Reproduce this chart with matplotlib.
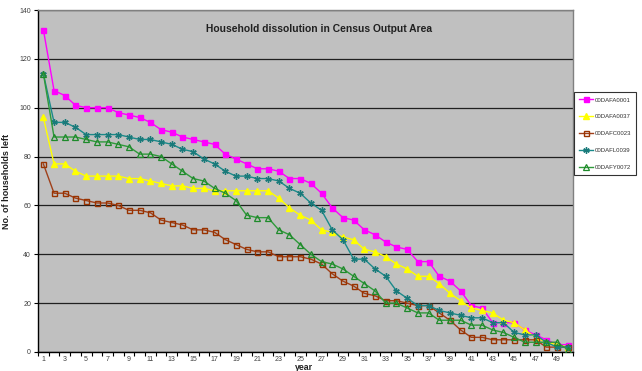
import matplotlib
matplotlib.use("Agg")
import matplotlib.pyplot as plt
import numpy as np

plt.rcParams['font.family'] = ['Liberation Sans', 'DejaVu Sans']

years = list(range(1, 51))

afa0001 = [132, 107, 105, 101, 100, 100, 100, 98, 97, 96,
           94, 91, 90, 88, 87, 86, 85, 81, 79, 77,
           75, 75, 74, 71, 71, 69, 65, 59, 55, 54,
           50, 48, 45, 43, 42, 37, 37, 31, 29, 25,
           19, 18, 12, 12, 12, 9, 7, 5, 3, 3]
afa0037 = [96, 77, 77, 74, 72, 72, 72, 72, 71, 71,
           70, 69, 68, 68, 67, 67, 66, 66, 66, 66,
           66, 66, 63, 59, 56, 54, 50, 49, 47, 46,
           42, 41, 39, 36, 34, 31, 31, 28, 24, 21,
           18, 17, 16, 13, 12, 9, 6, 4, 3, 2]
afc0023 = [77, 65, 65, 63, 62, 61, 61, 60, 58, 58,
           57, 54, 53, 52, 50, 50, 49, 46, 44, 42,
           41, 41, 39, 39, 39, 38, 36, 32, 29, 27,
           24, 23, 21, 21, 20, 19, 19, 16, 13, 9,
           6, 6, 5, 5, 5, 5, 5, 2, 2, 2]
afl0039 = [114, 94, 94, 92, 89, 89, 89, 89, 88, 87,
           87, 86, 85, 83, 82, 79, 77, 74, 72, 72,
           71, 71, 70, 67, 65, 61, 58, 50, 46, 38,
           38, 34, 31, 25, 22, 19, 19, 17, 16, 15,
           14, 14, 12, 12, 8, 7, 7, 4, 2, 2]
afy0072 = [114, 88, 88, 88, 87, 86, 86, 85, 84, 81,
           81, 80, 77, 74, 71, 70, 67, 65, 62, 56,
           55, 55, 50, 48, 44, 40, 37, 36, 34, 31,
           28, 25, 20, 20, 18, 16, 16, 13, 13, 13,
           11, 11, 9, 8, 6, 4, 4, 4, 4, 1]

series_names = ['00DAFA0001', '00DAFA0037', '00DAFC0023', '00DAFL0039', '00DAFY0072']
yticks = [0, 20, 40, 60, 80, 100, 120, 140]
xtick_labels = [str(y) for y in years if y % 2 == 1]

fig = plt.figure(figsize=(6.42, 3.71), dpi=100)
ax = fig.add_axes([38/642, 1 - 352/371, 535/642, 342/371])
ax.set_facecolor('#C0C0C0')

ms = 3.6
ax.plot(years, afa0001, color='#FF00FF', lw=1, marker='s', ms=ms, mfc='#FF00FF', mec='#FF00FF', label=series_names[0], zorder=3)
ax.plot(years, afa0037, color='#FFFF00', lw=1, marker='^', ms=ms+0.4, mfc='#FFFF00', mec='#FFFF00', label=series_names[1], zorder=3)
ax.plot(years, afc0023, color='#A0401A', lw=1, marker='s', ms=ms, mfc='none', mec='#993300', mew=1, label=series_names[2], zorder=3)
ax.plot(years, afl0039, color='#1A8A8A', lw=1, marker=(6, 2, 0), ms=ms+1, mec='#1A7A7A', mew=1, label=series_names[3], zorder=3)
ax.plot(years, afy0072, color='#2E9A3A', lw=1, marker='^', ms=ms+0.4, mfc='none', mec='#1E8A2A', mew=0.9, label=series_names[4], zorder=3)

ax.set_xlim(0.5, 50.5)
ax.set_ylim(0, 140)
ax.set_yticks(yticks)
ax.set_yticklabels([str(v) for v in yticks], fontsize=5, color='#404040')
ax.yaxis.grid(True, color='#202020', lw=0.9)
ax.set_axisbelow(True)

ax.set_xticks([y for y in years if y % 2 == 1])
ax.set_xticklabels(xtick_labels, fontsize=5, color='#404040')
ax.set_xticks(np.arange(0.5, 51, 1), minor=True)
ax.tick_params(axis='x', which='major', length=0, pad=3)
ax.tick_params(axis='x', which='minor', length=3, width=0.8, direction='out')
ax.tick_params(axis='y', length=3, width=0.8, direction='out', pad=2)

for s in ['left', 'bottom']:
    ax.spines[s].set_color('#000000')
    ax.spines[s].set_linewidth(1.0)
for s in ['top', 'right']:
    ax.spines[s].set_color('#808080')
    ax.spines[s].set_linewidth(1.0)

ax.text(0.525, 0.944, 'Household dissolution in Census Output Area', transform=ax.transAxes,
        ha='center', va='center', fontsize=7.4, fontweight='bold', color='#202020')
ax.set_ylabel('No. of households left', fontsize=6.5, fontweight='bold', color='#202020', labelpad=6)
fig.text(304/642, 1 - 367/371, 'year', ha='center', va='center', fontsize=6.3,
         fontweight='bold', color='#202020')

leg = fig.legend(loc='upper left', bbox_to_anchor=(574/642, 1 - 92/371), fontsize=4.3,
                 frameon=True, fancybox=False, edgecolor='#000000', handlelength=2.2,
                 labelspacing=1.95, borderpad=0.9, handletextpad=0.3, borderaxespad=0)
leg.get_frame().set_linewidth(0.8)
for t in leg.get_texts():
    t.set_color('#303030')

fig.savefig('out.png', dpi=100)
